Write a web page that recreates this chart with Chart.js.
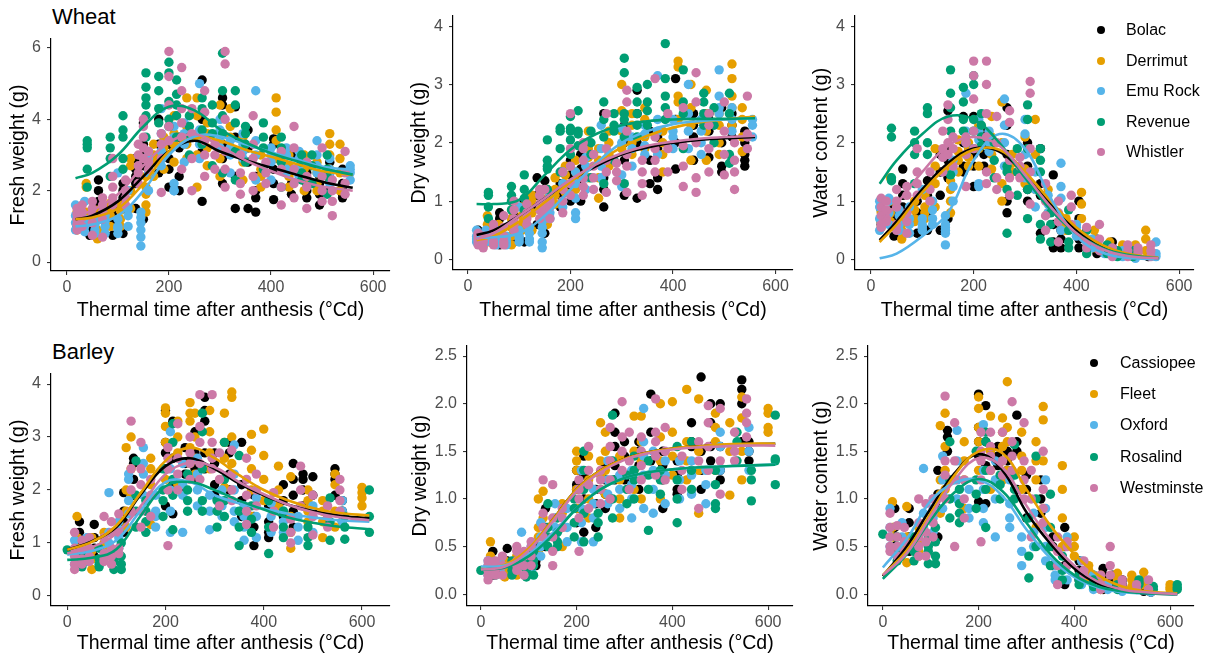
<!DOCTYPE html>
<html lang="en">
<head>
<meta charset="UTF-8">
<title>Grain fresh weight, dry weight and water content</title>
<script src="https://cdn.jsdelivr.net/npm/chart.js@4.4.1/dist/chart.umd.min.js"></script>
<style>
  body {
    margin: 0;
    width: 1213px;
    height: 661px;
    overflow: hidden;
    position: relative;
    background: #fff;
    font-family: "Liberation Sans", Arial, sans-serif;
  }
  canvas { position: absolute; }
  .crop {
    position: absolute;
    left: 52px;
    font-size: 22px;
    line-height: 26px;
    color: #000;
  }
  .legend {
    position: absolute;
    height: 150px;
    overflow: hidden;
    font-size: 16px;
    color: #000;
  }
  .legend .item { position: absolute; left: 0; height: 20px; line-height: 20px; white-space: nowrap; }
  .legend .dot { position: absolute; width: 8px; height: 8px; border-radius: 50%; top: 6px; }
  .legend .lab { position: absolute; }
</style>
</head>
<body>

<div class="crop" style="top:4px">Wheat</div>
<div class="crop" style="top:339px">Barley</div>

<canvas id="p1" width="400" height="330" style="left:0;top:0"></canvas>
<canvas id="p2" width="405" height="330" style="left:400px;top:0"></canvas>
<canvas id="p3" width="408" height="330" style="left:805px;top:0"></canvas>
<canvas id="p4" width="400" height="331" style="left:0;top:330px"></canvas>
<canvas id="p5" width="405" height="331" style="left:400px;top:330px"></canvas>
<canvas id="p6" width="408" height="331" style="left:805px;top:330px"></canvas>

<div class="legend" id="legWheat" style="left:1090px;top:20px;width:113px"></div>
<div class="legend" id="legBarley" style="left:1083px;top:353px;width:120px"></div>

<script>
// ---- varieties and colours ----
const wheatVarieties = ['Bolac', 'Derrimut', 'Emu Rock', 'Revenue', 'Whistler'];
const barleyVarieties = ['Cassiopee', 'Fleet', 'Oxford', 'Rosalind', 'Westminster'];
const colors = ['#000000', '#E69F00', '#56B4E9', '#009E73', '#CC79A7'];

// ---- axis ticks ----
const xTicks = [0, 200, 400, 600];
const wheatFreshTicks = [0, 2, 4, 6];
const wheatDryTicks = [0, 1, 2, 3, 4];
const wheatWaterTicks = [0, 1, 2, 3, 4];
const barleyFreshTicks = [0, 1, 2, 3, 4];
const barleyDryTicks = [0, 0.5, 1, 1.5, 2, 2.5];
const barleyWaterTicks = [0, 0.5, 1, 1.5, 2, 2.5];

// ---- wheat samples: thermal time of each harvest, one row per variety ----
const wheatTimes = [
  [20, 45, 62, 90, 110, 135, 150, 180, 200, 220, 265, 305, 330, 355, 370, 405, 440, 470, 495, 515, 540],
  [20, 38, 60, 85, 105, 125, 155, 170, 190, 210, 235, 255, 275, 300, 320, 345, 380, 410, 435, 465, 490, 515, 535],
  [17, 35, 55, 75, 100, 120, 145, 160, 185, 210, 230, 260, 300, 320, 345, 370, 400, 430, 455, 490, 515, 555],
  [40, 85, 110, 155, 180, 200, 215, 240, 265, 285, 305, 330, 350, 385, 420, 460, 480, 510],
  [20, 30, 50, 70, 90, 115, 140, 150, 160, 185, 200, 225, 245, 270, 290, 310, 340, 365, 390, 420, 445, 470, 500, 520, 545]
];

// grains weighed at each harvest (g)
const wheatFresh = [
  [[1.2,1.0,1.35,1.1],[0.75,0.95,1.3,1.1],[2.3,2.0,1.5,1.7,1.2],[1.3,0.75,1.5,1.1],[2.2,1.8,0.8,2.0,1.5],[2.9,2.4,1.5,2.6,2.2],[3.9,3.3,1.2,3.0,2.7],[4.0,2.8,2.5,3.3,3.0],[3.3,2.1,2.9,2.6],[3.2,2.4,2.0,3.5],[5.1,4.0,1.7,3.6,3.1],[4.6,3.3,2.2,4.4,2.9],[4.35,1.5,3.5,2.4],[3.7,1.5,2.8,3.2],[1.8,1.4,2.4,2.0],[3.3,1.75,2.6,3.45,2.2],[2.2,1.9,3.0,2.6],[2.5,1.8,2.2,2.0],[2.2,1.6,1.9,2.4],[2.0,2.5,2.8,2.3],[2.2,1.9,1.8,2.6,2.1]],
  [[0.9,1.4,1.2,1.05],[2.1,2.2,1.1,1.4],[0.65,1.2,1.45,0.9],[1.5,1.0,1.3,1.65],[1.2,1.6,1.45,1.0],[1.5,2.9,2.7,2.0],[1.6,1.9,2.1,1.4,2.4],[3.3,2.4,2.8,3.0],[3.0,3.5,2.6,3.2],[2.8,4.1,3.3,3.6],[4.6,3.8,2.9,3.3],[4.6,3.5,2.1,3.0,4.1],[3.6,2.7,3.2,3.9],[4.4,3.4,2.4,2.9],[3.8,4.3,3.1,3.5],[2.3,3.2,2.8,3.5],[2.6,2.1,3.0,2.4],[4.6,4.2,3.7,3.4,2.9],[2.4,3.0,2.1,2.7],[3.0,2.6,2.0,2.3],[2.5,2.2,2.8,2.0],[3.6,3.3,3.0,2.6,2.3],[3.3,2.9,2.0,2.5]],
  [[1.6,1.1,0.9,1.3],[1.0,1.7,1.2,0.85],[0.9,1.2,1.05,0.8],[0.8,1.3,1.0,1.15],[0.8,1.2,2.5,1.0,0.95],[1.0,1.5,1.3,2.0],[1.4,0.45,0.9,1.1,1.25,0.7],[2.0,2.9,2.5,3.1],[4.3,3.1,3.6,2.7],[2.0,3.5,2.0,3.8,2.2],[3.9,3.3,3.6,2.8],[5.0,3.3,3.7,2.9],[3.7,3.5,3.2,4.0],[3.0,2.5,3.4,3.2],[3.3,2.9,3.6,3.1],[4.8,3.4,2.3,3.0],[3.2,2.3,2.8,3.0],[2.6,3.0,3.2,2.5],[2.4,2.9,2.7,3.1],[3.4,3.0,2.7,2.5],[2.6,2.2,2.9,2.5],[2.7,2.3,2.6,2.5]],
  [[3.4,3.2,2.1,3.3,2.6],[3.5,3.2,2.4,2.9],[4.1,3.7,2.9,3.5,2.6],[5.3,4.9,4.4,3.5,4.6,4.1],[5.2,3.9,4.3,4.8],[5.6,5.3,4.5,4.0,3.8],[5.1,4.7,4.1,3.5,4.4],[3.8,3.0,3.5,4.1],[4.3,3.7,4.6,3.3],[4.4,2.7,3.6,3.9],[5.85,4.8,2.5,4.1,3.6],[4.8,4.4,2.3,3.9,3.1],[3.8,3.3,3.6,2.8],[3.9,3.5,2.6,3.2],[3.5,2.8,2.1,3.2],[2.8,2.5,2.3,3.0],[3.0,2.2,2.7],[3.0,1.9,2.6,2.4]],
  [[1.5,1.2,0.9,1.35,1.05],[1.4,1.0,1.25,1.6],[1.7,0.75,1.3,1.5,1.1],[1.8,1.4,0.7,1.6,1.2],[2.9,2.4,1.6,2.1,1.8],[2.3,1.6,2.0,1.8],[3.3,2.7,2.2,2.5,3.0],[4.0,3.5,2.9,3.2,3.8],[2.6,3.1,2.8],[1.95,3.6,3.3,2.9],[5.9,5.2,3.4,4.4,3.8],[5.45,4.8,3.9,2.6,3.5,4.3],[2.0,2.9,4.3,3.6],[4.8,4.2,2.4,3.4,3.0],[3.0,2.6,3.3],[5.9,5.55,4.0,2.1,3.1,2.6],[3.0,2.5,1.9,2.2],[4.1,3.3,2.4,2.9,2.0],[2.8,2.2,2.5],[2.1,1.6,3.1,2.6],[3.8,1.8,2.6,3.2,2.2],[2.4,1.5,2.1,2.8],[3.2,2.0,1.7,2.4],[2.3,1.3,1.7,2.0],[3.1,2.2,1.9,2.5]]
];
const wheatDry = [
  [[0.45,0.35,0.5,0.4],[0.3,0.5,0.4,0.35],[0.8,0.7,0.25,0.5],[0.45,0.3,0.6,0.75],[0.3,0.7,1.0,0.85],[1.4,0.9,0.6,1.1],[1.35,0.6,1.0,1.2,0.45],[1.3,1.1,0.9,1.2],[1.7,1.2,1.45,1.0],[1.3,1.0,1.8,1.55],[1.2,0.9,1.6,2.5,1.4],[2.3,1.1,1.7,2.0],[2.5,1.05,2.0,2.9],[1.3,1.7,2.2],[1.2,1.4,2.1,1.9],[3.1,1.55,2.4,2.0],[2.1,2.5,1.7,2.3],[2.5,1.75,2.2,2.4],[1.5,2.0,2.6,1.6],[2.5,2.1,2.3],[2.2,1.7,1.6,2.0,1.8]],
  [[0.3,0.4,0.35,0.45],[0.6,0.75,0.3,0.5],[0.3,0.5,0.4,0.6],[0.4,0.25,0.55,0.7],[0.5,0.75,0.9,0.6],[0.5,1.1,0.8,1.0],[0.6,0.9,1.05,0.75,1.2],[1.2,0.95,1.4,1.1],[1.45,1.3,1.15,1.6],[1.5,1.2,1.35,1.7],[2.2,1.75,1.4,1.9],[1.05,1.4,1.7,1.9],[2.0,1.8,1.6,2.2],[3.0,2.55,1.9,2.2],[2.3,2.0,2.5,1.8],[2.1,1.9,2.4,2.6],[1.5,1.8,2.2,2.0],[3.4,3.3,2.8,2.7,2.4],[1.7,2.3,3.0,2.6],[2.9,2.2,1.7,2.5],[2.0,2.5,1.8,2.3],[3.35,3.1,2.8,2.3,2.6],[2.6,1.85,2.1,2.4]],
  [[0.5,0.3,0.4,0.35],[0.35,0.5,0.4,0.3],[0.3,0.5,0.35,0.25],[0.3,0.25,0.4,0.35],[0.4,0.35,0.9,0.3,0.5],[0.3,0.55,0.45,0.35],[0.65,0.2,0.45,0.75,0.55,0.3],[0.8,0.95,0.7,1.1],[1.5,1.0,1.3,0.9],[0.7,1.05,0.8,1.3,1.5],[1.75,1.4,1.6,1.2],[2.3,1.6,1.9,1.4],[2.25,1.25,2.0,1.45],[1.9,1.6,2.1],[2.15,1.95,2.3,1.8],[3.15,2.4,1.8,2.2],[2.1,1.9,2.4,2.2],[3.0,2.2,2.5,1.9],[2.0,1.8,2.4,2.2],[3.25,2.8,2.5,2.6],[2.4,1.7,2.2,2.6],[2.4,2.1,2.3]],
  [[1.1,1.15,0.7,0.9],[1.25,1.1,0.85,1.0],[1.45,1.2,0.85,1.05],[2.05,1.7,1.55,1.2,1.6],[2.25,1.5,1.9,2.2],[2.45,2.2,2.05,2.25,1.8],[2.55,2.2,1.95,2.15],[2.0,1.4,1.8,2.2],[2.7,1.3,2.1,2.4],[2.5,1.7,2.3,2.2],[3.45,3.2,2.4,2.1,2.5,1.3],[2.95,2.7,2.1,2.5,2.3],[3.0,2.55,2.3,2.7],[3.7,3.1,2.8,2.4,2.6],[2.7,3.25,1.9,2.5],[2.85,2.3,2.5,2.7],[2.6,2.0,2.3],[2.85,1.8,1.65,2.5]],
  [[0.45,0.3,0.25,0.4,0.35],[0.4,0.2,0.3,0.35],[0.6,0.25,0.4,0.5,0.3],[0.55,0.3,0.25,0.75,0.4],[1.0,0.85,0.5,0.7,0.6],[0.8,0.6,0.95,0.7],[1.1,0.95,0.7,0.85,1.2],[1.2,1.0,0.9,0.8],[0.7,1.0,0.9],[0.8,1.5,1.2,1.0],[2.5,1.9,1.3,1.6,1.1],[2.0,1.7,1.4,1.1,1.25,1.9],[1.8,1.6,1.2,1.4],[2.5,1.9,1.15,1.5,1.7],[1.65,1.35,1.5],[2.9,2.7,1.6,1.15,2.2,1.8],[1.7,1.5,1.1,1.3],[3.1,2.1,1.7,1.5,1.9],[2.5,1.5,1.9],[2.6,1.25,1.95,1.6],[3.2,2.7,1.15,2.0,1.4],[2.3,1.5,1.9,2.5],[2.7,2.2,1.45,1.8],[2.0,1.2,1.5,1.7],[2.8,2.15,1.9,2.1]]
];
const wheatWater = [
  [[0.7,0.6,0.85,0.65],[0.4,0.6,0.9,0.75],[1.55,1.3,0.9,1.1],[0.8,0.45,1.0,0.7],[1.35,0.5,0.8,1.1],[1.8,1.1,0.5,1.5],[2.55,1.9,0.7,1.7,1.4],[2.45,1.6,1.5,2.0],[2.45,1.25,1.8,1.6],[2.0,1.8,1.6,2.2],[2.6,1.0,0.8,2.3,1.8],[2.0,1.2,1.0,1.6],[1.9,0.45,1.3,1.1],[1.45,0.3,0.2,0.6],[0.5,0.2,0.35],[1.0,0.35,0.2,0.7],[0.2,0.35,0.1,0.25],[0.3,0.1,0.2],[0.2,0.1,0.15],[0.1,0.15,0.05],[0.1,0.05,0.15]],
  [[0.55,0.8,0.65,0.7],[1.4,1.0,0.65,0.8],[0.35,0.6,0.75,0.5],[0.65,1.0,0.85,0.7],[0.7,0.9,1.1,0.8],[1.6,0.9,1.9,1.3],[1.2,1.0,1.35,1.55,0.8],[2.05,1.7,1.5,1.85],[1.9,2.0,1.6,1.75],[2.2,1.6,1.9,2.3],[2.1,1.55,2.45,1.8],[2.7,1.3,1.0,2.0],[1.8,1.5,1.65],[2.1,1.55,1.45,1.3],[2.4,1.8,1.2],[1.0,0.8,1.2],[0.6,0.5,0.7],[1.15,0.95,0.7,0.4],[0.35,0.2,0.5],[0.3,0.15,0.2],[0.25,0.2,0.1],[0.25,0.15,0.1],[0.5,0.35,0.15]],
  [[0.9,0.7,0.5,1.0],[1.05,1.0,0.8,0.6],[0.6,0.75,0.85,0.5],[0.45,0.9,0.6,0.7],[0.55,0.7,1.2,0.6,0.5],[0.7,1.0,0.85,0.6],[0.75,0.25,0.45,0.55,0.6,0.5],[1.25,1.5,1.0,1.7],[2.85,2.0,2.2,1.8],[1.3,2.4,1.25,2.05,2.2],[2.2,1.85,2.0],[2.75,1.6,2.3,2.0],[1.4,2.15,1.8,2.4],[1.2,0.9,1.5],[1.1,0.95,0.8],[1.65,1.05,0.5,1.25],[0.55,0.4,0.6],[0.3,0.35,0.2],[0.2,0.15,0.1],[0.15,0.1,0.05],[0.1,0.05,0.02],[0.3,0.1,0.05]],
  [[2.25,2.1,1.4,1.35],[2.2,2.0,1.3,1.8],[2.6,2.5,2.0,1.8],[3.25,2.85,2.6,1.45,2.2],[2.95,2.4,2.2,2.7],[3.15,3.0,2.4,2.2,1.9],[2.5,2.3,1.95,2.1],[2.0,1.4,1.7],[1.5,0.45,1.2,1.6],[1.9,1.5,1.1],[2.65,2.4,0.7,1.9,1.2],[1.9,1.5,0.35,1.7,0.6],[0.8,0.6,0.3],[0.85,0.3,0.2,0.5],[0.5,0.2,0.1],[0.2,0.1,0.25],[0.15,0.05],[0.15,0.1,0.05]],
  [[1.05,0.9,0.6,0.75,0.55],[1.0,0.7,0.85,0.65],[1.2,0.5,0.9,1.0,0.6],[1.25,1.1,0.45,0.8,0.65],[1.9,1.5,1.1,1.3],[1.5,1.0,1.2],[2.2,1.75,1.5,1.9],[2.65,2.4,2.0,1.8],[1.9,2.1,1.6],[1.25,2.1,1.8,2.0],[3.4,3.15,2.75,2.2,1.9],[3.4,3.0,2.5,1.5,2.1,1.3],[1.2,1.4,2.45,2.0],[2.55,2.35,1.1,1.7,1.4],[1.75,1.4,1.6],[3.05,2.85,1.9,0.95,1.5],[1.3,1.0,0.75,0.5],[1.0,0.65,0.3,0.8],[1.1,0.9,0.6],[0.55,0.3,0.2],[0.6,0.35,0.15],[0.2,0.1,0.05],[0.25,0.15,0.05],[0.2,0.1,0.15],[0.25,0.15,0.05]]
];

// ---- barley samples ----
const barleyTimes = [
  [25, 55, 115, 135, 200, 215, 240, 260, 280, 300, 330, 355, 380, 410, 440, 460, 480, 500, 545, 560],
  [20, 50, 75, 120, 130, 170, 200, 225, 250, 260, 290, 320, 335, 375, 400, 430, 455, 490, 520, 545, 600],
  [15, 40, 85, 105, 125, 155, 180, 210, 235, 265, 290, 315, 340, 360, 385, 415, 440, 470, 500, 560],
  [0, 30, 65, 95, 110, 140, 160, 195, 215, 245, 275, 305, 320, 350, 375, 410, 440, 490, 535, 565, 615],
  [15, 30, 45, 75, 90, 105, 130, 150, 170, 205, 225, 250, 270, 295, 310, 335, 365, 385, 420, 455, 475, 500, 530, 555]
];
const barleyFresh = [
  [[1.4,1.0,0.8,1.2],[1.35,0.9,1.1,0.75],[1.95,1.4,1.2,1.6],[2.6,2.2,2.5,1.9],[3.5,2.7,1.7,2.4,2.9],[3.3,1.55,2.6,2.1],[2.8,2.3,2.5,2.0],[3.1,2.4,2.7,2.2],[3.75,3.3,2.7,3.5,2.4],[2.7,2.1,2.5,1.9],[2.9,2.0,2.7,2.3],[2.1,1.8,2.9,1.5],[0.95,1.5,1.9,1.3],[1.2,1.7,1.4,1.1],[2.1,1.5,1.8],[2.5,2.2,1.3,1.9,1.6],[2.3,2.0,2.2,1.7],[2.25,1.6,1.9],[2.4,2.2,1.9,2.3],[1.6,1.4,1.8]],
  [[1.5,0.9,1.1,0.8],[0.5,1.1,0.85,0.7],[0.7,1.2,0.9,1.0],[2.8,1.3,1.6,2.0],[3.0,1.9,2.4,1.6],[2.6,1.35,2.1,2.4],[3.55,3.45,2.2,2.9,3.2],[3.3,2.1,2.7,3.0],[3.65,3.3,2.8,3.45,2.5],[3.45,2.6,3.0,2.3],[3.5,2.4,3.1,2.7],[3.45,2.05,2.6,2.9],[3.85,3.75,3.0,2.5],[3.05,2.75,1.5,2.4,2.0],[3.15,2.65,2.2,1.8],[2.45,1.7,2.0],[2.25,0.9,1.5,1.2],[2.0,1.8,1.4,1.6],[1.6,1.1,1.4,1.8],[2.3,1.3,2.1,1.6],[2.05,1.85,1.7,1.95]],
  [[1.05,0.6,0.8,0.9],[1.1,0.75,0.9,0.65],[1.95,1.0,1.2,0.8],[1.4,0.9,1.1,1.25],[2.2,1.55,1.8,2.3],[2.8,1.9,2.3,2.5],[1.6,1.3,1.9,1.5],[3.1,1.2,2.0,2.4,1.6],[2.5,1.2,1.9,2.1],[2.6,1.7,2.3,2.0],[1.25,1.9,1.6],[2.0,1.5,1.7],[2.85,2.3,1.6,2.0,1.4],[1.05,1.5,1.3,1.7],[1.85,1.1,1.5],[1.75,1.2,1.5],[1.6,1.2,1.4],[1.3,1.05,1.5],[1.5,1.2,1.7],[1.8,1.4,1.6]],
  [[0.87],[0.7,0.55,0.8,0.65],[0.9,0.55,0.7,0.6],[0.5,0.8,0.65,0.7],[0.5,0.75,1.0,0.6],[2.55,1.9,1.3,1.6],[1.2,1.6,1.4,1.8],[2.4,1.5,2.0,1.8],[3.25,2.9,1.25,2.2,1.9],[2.0,1.6,2.3,1.8],[3.45,3.1,1.8,2.4,1.6],[1.3,1.8,1.6],[2.9,1.5,2.2,1.8],[2.65,0.95,1.6,1.3],[1.45,1.2,1.7],[1.8,0.8,1.3],[1.6,1.3,1.1],[1.3,0.95,1.1],[1.85,1.05,1.4],[1.5,1.07,1.3],[2.0,1.5,1.2]],
  [[1.2,0.6,0.5,0.9,0.75],[0.9,1.05,0.7,0.6],[1.1,0.75,0.65,0.9],[1.5,0.65,0.8,1.1,0.7],[1.4,0.6,0.75,0.9,1.2],[1.55,0.9,1.2,0.8],[3.3,2.0,1.6,2.4],[2.9,2.1,1.6,2.4,1.3],[1.5,2.2,1.9],[2.8,2.4,0.95,2.0,2.6],[3.25,2.6,2.3,2.0],[3.0,2.2,2.5,2.7],[3.8,3.2,2.5,2.9,2.2],[3.8,2.9,2.4,2.6],[2.7,1.7,2.2],[2.75,2.3,2.0,1.8],[2.6,1.9,1.35,2.2,1.6],[2.3,1.7,2.0],[1.95,1.3,1.6],[1.0,1.45,1.2],[2.45,2.0,1.7],[1.9,1.15,1.5],[1.7,1.5,1.3],[2.2,1.8,2.0,1.6]]
];
const barleyDry = [
  [[0.45,0.25,0.3,0.2],[0.48,0.3,0.25,0.35],[0.5,0.35,0.45,0.3],[0.9,0.7,0.5,0.6],[1.3,1.1,0.75,0.9,1.15],[1.45,0.65,1.25,1.0],[0.95,0.7,1.1],[1.2,0.9,1.35,1.05],[1.9,1.55,1.35,1.7,1.2],[1.6,1.2,1.45],[1.5,1.1,1.35,1.6],[2.1,1.7,1.4],[0.9,1.2,1.5,1.35],[1.1,1.05,1.4,1.25],[1.55,1.3,1.6,1.8],[2.28,1.5,1.1,1.3],[2.0,1.8,1.55,1.4],[2.0,1.55,1.3,1.2],[2.25,2.15,2.0,1.6],[1.6,1.5,1.4]],
  [[0.55,0.3,0.25,0.4],[0.18,0.35,0.3,0.25],[0.25,0.3,0.2,0.4],[1.0,0.45,0.6,0.7],[1.08,0.6,0.8],[0.95,0.5,0.7,0.85],[1.5,1.3,0.9,1.1,1.4],[1.45,0.8,1.2,1.0],[1.8,1.4,1.1,1.25],[1.7,1.05,1.5,1.3],[1.2,0.8,1.45,1.0],[1.87,1.3,1.5,1.1],[1.87,1.0,1.4,1.6],[2.0,1.65,1.0,1.4],[2.02,1.45,1.25,1.7],[2.15,1.2,1.6,1.4],[2.05,0.85,1.3,1.5],[1.9,1.6,1.3,1.75],[1.8,1.04,1.5],[2.07,1.2,1.85,1.5],[1.95,1.75,1.7,1.9]],
  [[0.35,0.2,0.3,0.25],[0.35,0.25,0.3],[0.65,0.3,0.4],[0.4,0.25,0.5,0.35],[0.75,0.5,0.6,0.4],[0.95,0.7,0.6,0.8],[0.7,0.55,0.9],[1.3,0.55,0.9,1.1,0.75],[1.1,0.55,0.8,0.95],[1.4,0.95,1.2,1.05],[1.25,0.9,1.1],[1.15,0.8,1.3,1.0],[1.95,1.6,1.25,1.45,0.9],[0.85,1.3,1.5,1.1],[1.25,0.95,1.4],[1.4,1.0,1.2],[1.05,1.25,1.4],[1.15,0.95,1.3],[1.55,1.3,1.7],[1.75,1.3,1.5]],
  [[0.25],[0.28,0.2,0.25,0.3],[0.3,0.2,0.25,0.35],[0.18,0.3,0.25,0.35],[0.2,0.35,0.3,0.45],[0.95,0.7,0.5,0.6],[0.5,0.65,0.8,0.55],[0.9,0.6,0.75,1.0],[1.5,1.3,0.55,1.1,0.85],[0.85,0.6,0.75],[1.88,1.4,0.8,1.2,1.0],[1.1,0.95,1.25],[1.45,1.0,1.2,1.3],[1.4,0.67,1.1,1.25],[1.2,1.05,1.3],[1.55,0.75,1.2,1.0],[1.6,1.1,1.3],[1.3,0.9,1.15,0.95],[1.7,1.4,1.6],[1.3,0.98,1.2],[1.88,1.42,1.15,1.4]],
  [[0.35,0.15,0.2,0.3,0.25],[0.3,0.25,0.2,0.35],[0.4,0.2,0.3],[0.5,0.25,0.35,0.45,0.3],[0.45,0.2,0.3,0.4],[0.55,0.3,0.4,0.5],[1.2,0.85,0.6,0.7],[1.15,0.6,0.45,0.8,0.3],[0.7,0.9,0.8],[1.1,1.0,0.45,0.8,1.2],[1.55,1.15,0.9,1.3],[1.3,0.95,1.1,1.2],[1.75,1.55,1.2,1.4,1.0],[2.02,1.5,1.3,1.65],[1.7,1.1,1.4],[1.65,1.35,1.5,1.2],[2.05,1.6,1.25,1.45,1.7],[1.75,1.2,1.5],[1.45,1.1,1.3],[1.4,0.9,1.6],[1.98,1.8,1.55,1.3],[1.95,1.05,1.4],[1.7,1.4,1.5],[2.05,1.9,1.65,1.8]]
];
const barleyWater = [
  [[0.9,0.7,0.5,0.6],[0.9,0.6,0.45,0.75],[1.3,1.05,0.6,0.9],[1.72,1.5,1.65,1.2],[2.1,1.6,0.97,1.45,1.75],[1.98,0.95,1.35,1.6],[1.55,1.35,1.45],[1.5,1.3,1.4],[1.88,1.6,1.1,1.5],[1.1,0.8,1.25],[1.2,0.85,1.0],[0.5,0.3,0.6],[0.1,0.3,0.7,0.5],[0.25,0.15,0.35],[0.2,0.1,0.15],[0.27,0.1,0.05,0.2],[0.2,0.1,0.15],[0.15,0.05,0.1],[0.1,0.05,0.03],[0.05,0.02]],
  [[0.97,0.6,0.45,0.7],[0.33,0.92,0.6,0.5],[0.45,0.55,0.7,0.4],[1.77,0.85,1.2,1.05],[1.9,1.3,1.1,1.55],[1.6,0.9,1.4,1.2],[2.07,1.95,1.3,1.6,1.75],[1.87,1.3,1.5,1.1],[1.85,1.7,1.2,1.55,1.4],[2.23,1.75,1.6,1.3],[1.7,1.45,1.3,1.1],[1.6,0.7,1.2,1.4],[1.97,1.83,1.4,0.9],[1.35,1.1,0.5,0.8],[0.6,0.4,0.5],[0.3,0.15,0.25],[0.2,0.05,0.15],[0.22,0.15,0.1],[0.2,0.08,0.15],[0.23,0.1,0.15],[0.1,0.07,0.05]],
  [[0.9,0.5,0.6,0.7],[0.75,0.45,0.6],[1.32,0.7,0.85],[1.0,0.65,0.8,0.9],[1.45,1.05,1.2,0.9],[1.72,1.2,1.4,1.0],[0.9,0.8,1.1],[1.78,0.75,1.1,1.3,0.9],[1.4,0.6,1.0,1.2],[1.2,0.7,0.95,0.8],[0.45,0.3,0.6],[0.85,0.65,0.5],[0.9,0.7,0.35,1.2,0.5],[0.2,0.15,0.3],[0.6,0.15,0.3],[0.35,0.2,0.1],[0.2,0.1,0.05],[0.1,0.05],[0.05,0.03],[0.05,0.02]],
  [[0.63],[0.42,0.35,0.5,0.6],[0.6,0.35,0.45],[0.32,0.5,0.45,0.6],[0.32,0.4,0.55,0.7],[1.6,1.2,0.8,1.0],[0.75,0.95,1.1,0.85],[1.5,0.9,1.2,1.05],[1.7,1.6,0.7,1.3,1.1],[1.15,1.0,1.25],[1.57,1.25,1.0,1.1],[0.4,0.17,0.8],[1.45,0.5,1.0],[1.05,0.3,0.7,0.5],[0.25,0.15,0.4],[0.2,0.1,0.15],[0.15,0.08,0.1],[0.1,0.05],[0.15,0.1,0.12],[0.08,0.05],[0.1,0.07,0.05]],
  [[0.85,0.45,0.6,0.7,0.5],[0.6,0.72,0.5,0.4],[0.7,0.55,0.45],[1.0,0.4,0.6,0.5,0.75],[0.95,0.4,0.55,0.65],[1.0,0.6,0.75,0.85],[2.08,1.25,1.0,1.4],[1.8,0.5,1.2,1.4],[0.8,1.2,1.0],[1.7,1.4,0.55,1.2,1.5],[1.7,1.45,1.3,1.55],[1.7,1.25,1.4],[2.02,1.6,1.3,1.45],[1.8,1.4,1.2,1.0],[1.0,0.6,1.3],[1.1,0.9,0.75,1.5],[0.6,0.3,0.1,0.45],[0.55,0.5,0.3],[0.35,0.2,0.25],[0.1,0.05,0.2],[0.5,0.2,0.3],[0.15,0.1],[0.1,0.05],[0.15,0.05]]
];

// ---- fitted curves, read at fixed thermal times ----
const wheatFitX = [17, 50, 100, 150, 200, 250, 300, 350, 400, 450, 500, 560];
const wheatFreshFit = [
  [1.2, 1.3, 1.7, 2.4, 3.1, 3.4, 3.1, 2.85, 2.65, 2.45, 2.25, 2.08],
  [1.2, 1.25, 1.5, 2.2, 3.1, 3.5, 3.4, 3.15, 2.95, 2.75, 2.55, 2.44],
  [1.0, 1.05, 1.3, 2.0, 3.0, 3.52, 3.52, 3.3, 3.08, 2.88, 2.68, 2.58],
  [2.35, 2.5, 3.0, 3.8, 4.35, 4.25, 3.72, 3.35, 3.05, 2.83, 2.63, 2.45],
  [1.3, 1.45, 1.9, 2.7, 3.35, 3.58, 3.25, 2.85, 2.55, 2.3, 2.12, 2.0]
];
const wheatDryFit = [
  [0.42, 0.5, 0.75, 1.05, 1.35, 1.6, 1.8, 1.92, 2.0, 2.05, 2.08, 2.1],
  [0.33, 0.4, 0.65, 0.98, 1.33, 1.65, 1.92, 2.12, 2.26, 2.35, 2.4, 2.45],
  [0.38, 0.38, 0.45, 0.75, 1.2, 1.65, 2.0, 2.2, 2.32, 2.37, 2.4, 2.42],
  [0.95, 0.95, 1.02, 1.45, 1.88, 2.15, 2.3, 2.37, 2.4, 2.41, 2.41, 2.42],
  [0.35, 0.45, 0.75, 1.05, 1.37, 1.63, 1.82, 1.95, 2.02, 2.07, 2.1, 2.12]
];
const wheatWaterFit = [
  [0.33, 0.65, 1.2, 1.65, 1.9, 1.85, 1.45, 0.95, 0.5, 0.22, 0.08, 0.02],
  [0.3, 0.6, 1.15, 1.6, 1.88, 1.88, 1.5, 1.0, 0.55, 0.25, 0.1, 0.03],
  [0.02, 0.1, 0.4, 0.8, 1.7, 2.15, 1.9, 1.05, 0.4, 0.12, 0.03, 0.0],
  [1.3, 1.7, 2.15, 2.45, 2.4, 2.0, 1.4, 0.85, 0.45, 0.2, 0.08, 0.02],
  [0.6, 0.95, 1.5, 1.95, 2.1, 1.95, 1.45, 0.9, 0.45, 0.18, 0.06, 0.02]
];

const barleyFitX = [0, 50, 100, 150, 200, 250, 300, 350, 400, 450, 500, 550, 615];
const barleyFreshFit = [
  [0.87, 1.03, 1.3, 1.92, 2.45, 2.6, 2.4, 2.12, 1.9, 1.72, 1.6, 1.52, 1.47],
  [0.87, 1.02, 1.33, 1.95, 2.55, 2.8, 2.6, 2.28, 2.0, 1.8, 1.66, 1.57, 1.52],
  [0.78, 0.85, 1.05, 1.62, 2.15, 2.15, 1.9, 1.75, 1.65, 1.55, 1.48, 1.43, 1.4],
  [0.68, 0.72, 0.88, 1.52, 2.07, 2.15, 2.0, 1.8, 1.63, 1.48, 1.38, 1.31, 1.26],
  [0.8, 0.92, 1.18, 1.7, 2.3, 2.52, 2.43, 2.15, 1.92, 1.72, 1.58, 1.49, 1.43]
];
const barleyDryFit = [
  [0.27, 0.3, 0.47, 0.78, 1.1, 1.3, 1.42, 1.49, 1.53, 1.55, 1.56, 1.57, 1.58],
  [0.27, 0.31, 0.48, 0.78, 1.1, 1.3, 1.42, 1.49, 1.53, 1.55, 1.57, 1.58, 1.58],
  [0.29, 0.3, 0.42, 0.64, 0.9, 1.1, 1.22, 1.28, 1.31, 1.33, 1.34, 1.35, 1.36],
  [0.26, 0.28, 0.4, 0.62, 0.9, 1.1, 1.22, 1.28, 1.31, 1.33, 1.34, 1.35, 1.36],
  [0.26, 0.29, 0.46, 0.76, 1.08, 1.28, 1.41, 1.48, 1.52, 1.54, 1.55, 1.56, 1.56]
];
const barleyWaterFit = [
  [0.19, 0.5, 0.9, 1.27, 1.47, 1.3, 0.86, 0.53, 0.27, 0.11, 0.04, 0.01, 0.0],
  [0.2, 0.46, 0.85, 1.25, 1.5, 1.48, 1.1, 0.72, 0.42, 0.2, 0.08, 0.03, 0.01],
  [0.28, 0.58, 0.98, 1.17, 1.2, 1.03, 0.68, 0.38, 0.18, 0.07, 0.02, 0.01, 0.0],
  [0.16, 0.42, 0.78, 1.07, 1.21, 1.08, 0.75, 0.42, 0.2, 0.08, 0.03, 0.01, 0.0],
  [0.2, 0.43, 0.82, 1.2, 1.43, 1.33, 0.93, 0.57, 0.3, 0.13, 0.05, 0.02, 0.0]
];

Chart.defaults.font.family = '"Liberation Sans", Arial, sans-serif';

const xTitle = 'Thermal time after anthesis (\u00B0Cd)';

function samplePoints(times, reps) {
  const pts = [];
  times.forEach((t, i) => (reps[i] || []).forEach(v => pts.push({ x: t, y: v })));
  return pts;
}

function fitPoints(xs, ys) {
  return xs.map((x, i) => ({ x: x, y: ys[i] }));
}

// area = plot rectangle inside the canvas: [left, top, right, bottom]
function drawPanel(id, p) {
  const canvas = document.getElementById(id);
  const W = canvas.width, H = canvas.height;
  const [aL, aT, aR, aB] = p.area;
  const datasets = [];

  p.times.forEach((times, i) => {
    datasets.push({
      data: samplePoints(times, p.values[i]),
      backgroundColor: colors[i],
      borderWidth: 0,
      pointRadius: 4.7,
      order: 10 - i
    });
  });
  p.fit.forEach((ys, i) => {
    datasets.push({
      data: fitPoints(p.fitX, ys),
      showLine: true,
      borderColor: colors[i],
      borderWidth: 2.6,
      pointRadius: 0,
      tension: 0.4,
      fill: false,
      order: -i
    });
  });

  new Chart(canvas, {
    type: 'scatter',
    data: { datasets },
    options: {
      responsive: false,
      animation: false,
      clip: false,
      layout: { padding: { left: 0, top: aT, right: W - aR, bottom: 0 } },
      plugins: { legend: { display: false }, tooltip: { enabled: false } },
      scales: {
        x: {
          type: 'linear',
          min: p.xRange[0],
          max: p.xRange[1],
          afterBuildTicks: s => { s.ticks = xTicks.map(v => ({ value: v })); },
          afterFit: s => { s.height = H - aB; },
          grid: { drawOnChartArea: false, drawTicks: true, tickLength: 4, color: '#333333', lineWidth: 1.1 },
          border: { display: true, color: '#000', width: 1.2 },
          ticks: { color: '#4d4d4d', font: { size: 16 }, padding: 3, maxRotation: 0 },
          title: { display: true, text: xTitle, color: '#000', font: { size: 19.5 }, padding: { top: 0, bottom: p.xTitlePad } }
        },
        y: {
          type: 'linear',
          min: p.yRange[0],
          max: p.yRange[1],
          afterBuildTicks: s => { s.ticks = p.yTicks.map(v => ({ value: v })); },
          afterFit: s => { s.width = aL; },
          grid: { drawOnChartArea: false, drawTicks: true, tickLength: 4, color: '#333333', lineWidth: 1.1 },
          border: { display: true, color: '#000', width: 1.2 },
          ticks: {
            color: '#4d4d4d', font: { size: 16 }, padding: 6,
            callback: v => p.decimals ? v.toFixed(p.decimals) : String(v)
          },
          title: { display: true, text: p.yTitle, color: '#000', font: { size: 19.5 }, padding: { top: p.yTitlePad, bottom: 0 } }
        }
      }
    }
  });
}

drawPanel('p1', { area: [51, 39, 390, 271], xRange: [-31, 633], yRange: [-0.25, 6.25], yTicks: wheatFreshTicks,
  yTitle: 'Fresh weight (g)', yTitlePad: 6.8, xTitlePad: 7.5, times: wheatTimes, values: wheatFresh, fitX: wheatFitX, fit: wheatFreshFit });
drawPanel('p2', { area: [53, 7, 393, 270], xRange: [-29, 634], yRange: [-0.18, 4.18], yTicks: wheatDryTicks,
  yTitle: 'Dry weight (g)', yTitlePad: 8.3, xTitlePad: 7.5, times: wheatTimes, values: wheatDry, fitX: wheatFitX, fit: wheatDryFit });
drawPanel('p3', { area: [50, 7, 389, 270], xRange: [-31, 629], yRange: [-0.18, 4.18], yTicks: wheatWaterTicks,
  yTitle: 'Water content (g)', yTitlePad: 5.3, xTitlePad: 7.5, times: wheatTimes, values: wheatWater, fitX: wheatFitX, fit: wheatWaterFit });
drawPanel('p4', { area: [51, 44, 390, 276], xRange: [-33, 657], yRange: [-0.19, 4.19], yTicks: barleyFreshTicks,
  yTitle: 'Fresh weight (g)', yTitlePad: 6.8, xTitlePad: 5.5, times: barleyTimes, values: barleyFresh, fitX: barleyFitX, fit: barleyFreshFit });
drawPanel('p5', { area: [67, 11, 393, 276], xRange: [-29, 652], yRange: [-0.124, 2.61], yTicks: barleyDryTicks, decimals: 1,
  yTitle: 'Dry weight (g)', yTitlePad: 9.3, xTitlePad: 5.5, times: barleyTimes, values: barleyDry, fitX: barleyFitX, fit: barleyDryFit });
drawPanel('p6', { area: [63, 11, 389, 276], xRange: [-31, 650], yRange: [-0.124, 2.61], yTicks: barleyWaterTicks, decimals: 1,
  yTitle: 'Water content (g)', yTitlePad: 5.3, xTitlePad: 5.5, times: barleyTimes, values: barleyWater, fitX: barleyFitX, fit: barleyWaterFit });

// ---- legends ----
function buildLegend(id, names, step, dotX, textX) {
  const box = document.getElementById(id);
  names.forEach((name, i) => {
    const item = document.createElement('div');
    item.className = 'item';
    item.style.top = (i * step) + 'px';
    item.innerHTML = '<span class="dot" style="left:' + dotX + 'px;background:' + colors[i] + '"></span>' +
                     '<span class="lab" style="left:' + textX + 'px">' + name + '</span>';
    box.appendChild(item);
  });
}
buildLegend('legWheat', wheatVarieties, 30.6, 7, 36);
buildLegend('legBarley', barleyVarieties, 31.2, 7, 37);
</script>
</body>
</html>
